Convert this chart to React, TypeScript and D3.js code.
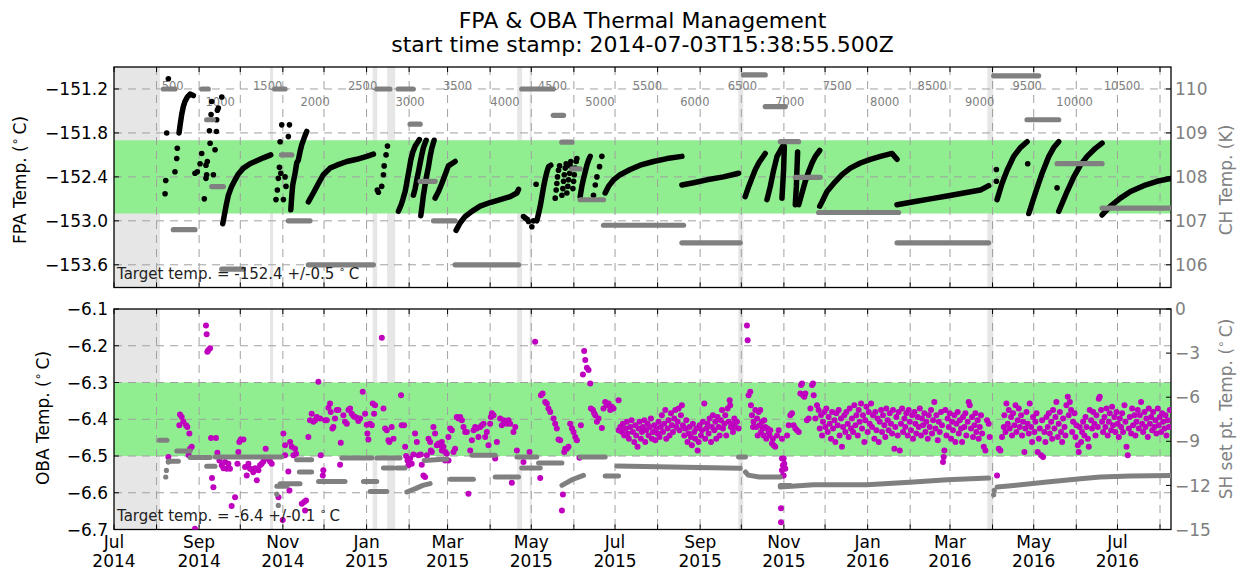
import React from 'react';
import * as d3 from 'd3';

// ---------------- DATA ----------------
// days are counted from 2014-07-01 (UTC)
const START_MS = Date.UTC(2014, 6, 1);
const END_DAY = 770;

const xTickMonths = ['2014-07', '2014-09', '2014-11', '2015-01', '2015-03', '2015-05', '2015-07', '2015-09', '2015-11', '2016-01', '2016-03', '2016-05', '2016-07'];
const fpaTicks = [-153.6, -153.0, -152.4, -151.8, -151.2];
const chTicks = [106, 107, 108, 109, 110];
const obaTicks = [-6.7, -6.6, -6.5, -6.4, -6.3, -6.2, -6.1];
const shTicks = [-15, -12, -9, -6, -3, 0];
const orbitTicks = [500, 1000, 1500, 2000, 2500, 3000, 3500, 4000, 4500, 5000, 5500, 6000, 6500, 7000, 7500, 8000, 8500, 9000, 9500, 10000, 10500];
const ORBIT0_DAY = 8.2;
const ORBIT_PERIOD_DAYS = 0.06916;

const fpaTarget = [-152.9, -151.9];
const obaTarget = [-6.5, -6.3];

const shadedDays = [[0, 33.5], [113.7, 115.9], [188.4, 191.7], [199, 204.8], [293.7, 297.3], [302.8, 304.2], [454.8, 458.4], [636.2, 640.6]];

const fpaSparse = [
  [39.6, -151.06], [38.4, -151.8], [37.7, -152.45], [37.2, -152.63], [44.4, -152.33], [45.7, -152.15], [46.1, -152.01],
  [59, -152.35], [60.7, -152.33], [62.7, -152.22], [63.9, -152.08], [65.8, -152.7], [67, -152.24], [67.5, -152.37], [67, -152.42], [68, -152.19], [70, -151.94], [69.5, -151.77], [70.7, -151.55], [71.2, -151.37], [72.4, -152.37], [73.6, -152.03], [74.6, -151.78], [74.8, -151.62], [75.3, -151.49], [76, -151.46], [78.5, -151.31],
  [118, -152.71], [119, -152.58], [119.7, -152.42], [120.5, -152.27], [121, -151.92], [122.2, -151.69], [121.5, -152.35], [123.4, -152.71], [124.6, -152.4], [125.3, -152.53], [127, -151.85], [127.8, -151.69],
  [192.6, -152.61], [191.8, -152.58], [195, -152.53], [196.3, -152.37], [196.8, -152.25], [198.2, -152.1], [199.2, -151.98],
  [298.3, -152.94], [299.5, -152.96], [301, -152.98], [302, -153.01], [304.4, -153.08], [305.6, -153.0], [307.5, -152.5],
  [321.4, -152.69], [322.1, -152.58], [322.6, -152.49], [323.1, -152.4], [323.8, -152.31], [324.6, -152.25],
  [326.3, -152.65], [327, -152.56], [327.5, -152.46], [328, -152.37], [328.7, -152.28], [329.4, -152.22],
  [329.9, -152.62], [330.6, -152.53], [331.1, -152.44], [331.9, -152.35], [332.3, -152.25], [332.8, -152.19],
  [334.3, -152.56], [334.8, -152.46], [335.3, -152.37], [336, -152.28], [336.7, -152.19], [337.2, -152.15],
  [349.3, -152.65], [350.6, -152.51], [351.8, -152.4], [353.7, -152.26], [355.4, -152.12],
  [642.8, -152.3], [642.8, -152.46], [665.6, -152.22], [687, -152.55],
];

const fpaRuns = [
  [[47.4, -151.8], [48.1, -151.7], [49.3, -151.55], [50.5, -151.44], [51.7, -151.37], [53.4, -151.31], [55.4, -151.27], [57.8, -151.29]],
  [[79.2, -153.04], [80.2, -152.94], [81.6, -152.8], [83.3, -152.65], [85.7, -152.53], [88.2, -152.44], [90.6, -152.36], [94.3, -152.28], [99.1, -152.22], [104, -152.18], [108.8, -152.14], [114.2, -152.1]],
  [[128.8, -152.85], [129.5, -152.66], [130.2, -152.51], [131.9, -152.35], [133.1, -152.21], [134.3, -152.17], [135.6, -152.05], [136.8, -151.96], [138.5, -151.87], [140.4, -151.78]],
  [[141.6, -152.74], [145.2, -152.62], [148.9, -152.49], [152.5, -152.37], [157.4, -152.28], [162.3, -152.24], [169.6, -152.19], [176.9, -152.16], [184.2, -152.12], [189, -152.09]],
  [[207.2, -152.87], [209.2, -152.78], [210.4, -152.71], [212.1, -152.6], [212.8, -152.53], [213.8, -152.42], [215.2, -152.28], [216.2, -152.17], [217.7, -152.06], [219.4, -151.98], [222.5, -151.89]],
  [[218.1, -152.65], [219.4, -152.56], [220.6, -152.44], [221.8, -152.33], [223, -152.21], [224.2, -152.1], [225.4, -152.0], [227.4, -151.9]],
  [[223.5, -152.93], [224.7, -152.76], [225.4, -152.65], [226.6, -152.51], [227.9, -152.37], [229.1, -152.26], [230.3, -152.12], [231.5, -152.01], [233.2, -151.9]],
  [[233.9, -152.69], [236.4, -152.6], [238.8, -152.49], [241.2, -152.37], [243.6, -152.25], [246, -152.22], [248.5, -152.19]],
  [[249.2, -153.13], [252.1, -153.03], [255.8, -152.94], [260.7, -152.87], [266.7, -152.8], [274, -152.75], [281.3, -152.71], [288.6, -152.67], [293.5, -152.62], [294.7, -152.57]],
  [[308, -153.0], [309.3, -152.9], [310.5, -152.8], [311.7, -152.67], [313, -152.53], [314.2, -152.42], [315.4, -152.33], [316.6, -152.26], [318.2, -152.24]],
  [[339.6, -152.67], [340.8, -152.53], [342.1, -152.42], [343.3, -152.33], [344.5, -152.24], [345.7, -152.17], [346.9, -152.12]],
  [[357.8, -152.62], [360.2, -152.53], [363.9, -152.44], [368.7, -152.37], [376, -152.3], [383.3, -152.24], [393, -152.19], [402.8, -152.15], [413.7, -152.12]],
  [[413.7, -152.51], [422.2, -152.48], [431.9, -152.44], [444, -152.4], [455, -152.35]],
  [[459.8, -152.67], [462, -152.55], [464.7, -152.42], [467.2, -152.3], [470, -152.2], [474.4, -152.08]],
  [[475.7, -152.71], [478.1, -152.53], [480.5, -152.31], [483, -152.12], [487.8, -151.96]],
  [[486.6, -152.69], [487.8, -152.3], [488.3, -151.99]],
  [[496.3, -152.78], [497.1, -152.53], [497.5, -152.31], [498, -152.06]],
  [[498.8, -152.78], [501.2, -152.62], [503.6, -152.46], [506, -152.33], [508.5, -152.21], [510.9, -152.12], [514.1, -152.04]],
  [[514.1, -152.8], [515.8, -152.74], [519.4, -152.6], [524.3, -152.49], [530.3, -152.37], [536.4, -152.28], [543.7, -152.21], [551, -152.16], [558.3, -152.12], [566.8, -152.08], [570.4, -152.16]],
  [[570.4, -152.78], [582.6, -152.74], [594.7, -152.7], [606.9, -152.66], [619, -152.62], [631.1, -152.58], [637.2, -152.52]],
  [[643.3, -152.71], [646.9, -152.49], [650.6, -152.31], [655.4, -152.12], [660.3, -152.0], [665.2, -151.92]],
  [[666.4, -152.9], [671.2, -152.62], [676.1, -152.35], [681, -152.12], [684.6, -152.0], [688.2, -151.92]],
  [[688.2, -152.87], [694.3, -152.6], [699.2, -152.4], [704, -152.24], [708.9, -152.12], [714.9, -152.01], [719.8, -151.94]],
  [[719.8, -152.92], [725.9, -152.8], [733.2, -152.69], [740.5, -152.6], [750.1, -152.52], [759.8, -152.46], [770, -152.42]],
];

// CH temperature (K): [start day, end day, value]
const chSegments = [
  [36, 44.4, 110.0], [43.2, 59, 106.8], [63.9, 68.7, 110.0], [67.5, 72.4, 109.3], [71.2, 79.7, 107.78], [78.5, 94.2, 105.9],
  [117, 124.6, 110.0], [122, 129.5, 108.5], [127, 142.8, 107.0], [141.6, 189, 106.0], [191.4, 201, 110.0], [207, 218, 110.0],
  [215.7, 223, 109.2], [223, 234, 107.9], [232.7, 248.5, 107.0], [248.5, 294.7, 106.0], [297, 320, 110.0], [320, 327.5, 109.4],
  [326.2, 333.5, 108.79], [333.5, 339.6, 108.18], [339.6, 356.6, 107.48], [356.6, 414.9, 106.9], [413.7, 456.2, 106.5],
  [458.6, 474.4, 110.32], [474.4, 489, 109.6], [485.4, 498.7, 108.8], [496.3, 514.5, 107.99], [513.3, 571.6, 107.19],
  [570.4, 637.2, 106.5], [640.8, 673.6, 110.3], [665.1, 688.2, 109.3], [687, 719.8, 108.3], [719.8, 770, 107.29],
];

// SH set point (deg C)
const shRuns = [
  [[33, -8.93], [38.6, -8.93]],
  [[39.6, -10.36], [46.9, -10.36]],
  [[45.7, -9.66], [55.4, -9.66]],
  [[55.4, -10.11], [70, -10.11]],
  [[67.5, -10.7], [73.6, -10.7]],
  [[73.6, -10.07], [122.2, -10.07]],
  [[118.6, -12.05], [125.9, -12.05]],
  [[121, -11.88], [135.5, -11.88]],
  [[135, -11.09], [144, -11.09]],
  [[133, -10.25], [144, -10.25]],
  [[149, -11.73], [168.3, -11.73]],
  [[166, -10.14], [187.8, -10.14]],
  [[181.7, -11.73], [191.4, -11.73]],
  [[186.6, -12.41], [198.7, -12.41]],
  [[191.4, -10.14], [208.4, -10.14]],
  [[196.3, -10.82], [203.6, -10.82]],
  [[206, -10.82], [212, -10.82]],
  [[213.3, -12.45], [220, -12.2], [225, -12.0], [230.3, -11.88]],
  [[226, -10.3], [242.5, -10.2]],
  [[244.9, -11.59], [261.8, -11.59]],
  [[260.7, -9.95], [277.7, -9.95]],
  [[277.7, -11.43], [294.7, -11.43]],
  [[293.5, -10.07], [308, -10.07]],
  [[297, -10.82], [310.5, -10.82]],
  [[309.3, -10.48], [326.3, -10.48]],
  [[326.3, -12.0], [334, -11.6], [342, -11.32]],
  [[339.6, -10.07], [357.8, -10.07]],
  [[357.8, -11.36], [367.5, -11.36]],
  [[366.3, -10.68], [456.2, -10.84]],
  [[455, -10.07], [460, -10.07]],
  [[460, -11.09], [462, -11.3], [470, -11.43], [485.4, -11.43]],
  [[485.4, -12.0], [492.6, -12.0]],
  [[485.4, -12.11], [509.7, -11.95], [548.6, -11.95], [582.6, -11.77], [606.9, -11.61], [637.2, -11.5]],
  [[643.3, -12.11], [655.4, -12.0], [679.7, -11.77], [704, -11.55], [718.6, -11.43], [740.5, -11.36], [770, -11.32]],
];
const shDots = [[37.7, -11.43], [38.2, -10.98], [39.6, -10.41], [118.6, -12.6], [119.7, -13.36], [640.8, -12.64], [641.2, -12.34]];

// OBA temperature (deg C)
const obaPoints = [
  [39.6, -6.503], [48.1, -6.387], [49.3, -6.394], [47.6, -6.416], [50.5, -6.407], [52.5, -6.416], [53.4, -6.421], [54.9, -6.439], [55.4, -6.48], [54.4, -6.498], [56.6, -6.475], [59, -6.698],
  [67, -6.145], [67.5, -6.169], [68, -6.216], [68.7, -6.212], [70, -6.207], [70.7, -6.451], [74.3, -6.451], [71.4, -6.56], [72.4, -6.585], [75.3, -6.491], [76.8, -6.512], [78.5, -6.525], [79.7, -6.533], [80.9, -6.516], [82.1, -6.535], [83.3, -6.521], [84.5, -6.535], [85.7, -6.636], [88.2, -6.612],
  [89.9, -6.521], [90.6, -6.489], [91.3, -6.462], [92.3, -6.455], [94.3, -6.455], [95.5, -6.53], [96.7, -6.553], [97.9, -6.521], [99.1, -6.535], [100.3, -6.536], [101.5, -6.544], [102.8, -6.533], [104, -6.566], [105.2, -6.539], [106.4, -6.525], [107.6, -6.521], [108.8, -6.515], [110.5, -6.48], [111.3, -6.507], [112.5, -6.507], [113.7, -6.515], [114.9, -6.521],
  [119.8, -6.612], [122.9, -6.674], [123.4, -6.439], [124.6, -6.471], [124.6, -6.498], [127, -6.542], [127.8, -6.594], [128.3, -6.462], [129.5, -6.475], [130.7, -6.498], [131.9, -6.48], [132.6, -6.494], [136.8, -6.63], [138.5, -6.625], [139.9, -6.621], [139.2, -6.648],
  [141.6, -6.448], [142.8, -6.403], [144, -6.385], [145.3, -6.407], [146.5, -6.403], [147.7, -6.394], [148.9, -6.298], [150.1, -6.398], [150.6, -6.498], [152.1, -6.553], [152.5, -6.539], [153.8, -6.403], [155, -6.403], [156.2, -6.369], [157.4, -6.357], [157.9, -6.38], [159.1, -6.425], [159.8, -6.421], [161, -6.398], [162.3, -6.375], [163.5, -6.375], [164.7, -6.524], [165.2, -6.464], [167.1, -6.389], [168.3, -6.407], [169.6, -6.412], [170.8, -6.375], [172, -6.371], [173.2, -6.385], [174.4, -6.391], [175.6, -6.394], [176.8, -6.396], [178, -6.405], [179.3, -6.398], [181.2, -6.325], [182.9, -6.385], [184.1, -6.415], [184.6, -6.439], [185.3, -6.455], [186.6, -6.412], [187.8, -6.416], [188.5, -6.357], [189.5, -6.385], [190.2, -6.362],
  [195.1, -6.178], [196.3, -6.371], [197.5, -6.425], [198.7, -6.43], [199.9, -6.457], [200.6, -6.462], [202.3, -6.421], [203.6, -6.453], [209.1, -6.335], [209.6, -6.416], [211.3, -6.416], [212.1, -6.475], [212.8, -6.5], [213.8, -6.512], [214.5, -6.525], [215.7, -6.507], [216.9, -6.521], [218.1, -6.496], [219.3, -6.439], [220.6, -6.462], [221.8, -6.498], [223.5, -6.496], [224.2, -6.524], [225.4, -6.553], [226.6, -6.557], [227.9, -6.498], [229.1, -6.453], [230.3, -6.462], [230.8, -6.485], [231.5, -6.489], [232.7, -6.421], [233.9, -6.439], [235.1, -6.471], [236.4, -6.466], [237.6, -6.471], [238.8, -6.485], [240, -6.475], [241.2, -6.512], [242.4, -6.494], [243.6, -6.448],
  [238.8, -6.462], [241.2, -6.489], [243.7, -6.512], [244.9, -6.425], [246.1, -6.43], [247.3, -6.489], [248.5, -6.48], [249.7, -6.394], [251, -6.398], [252.2, -6.394], [253.4, -6.403], [254.6, -6.421], [255.8, -6.435], [257, -6.435], [258.2, -6.603], [259.5, -6.485], [260.7, -6.457], [261.9, -6.43], [263.1, -6.421], [264.3, -6.425], [265.5, -6.448], [266.8, -6.421], [268, -6.416], [269.2, -6.412], [270.4, -6.448], [271.6, -6.435], [272.8, -6.471], [274, -6.412], [274.5, -6.394], [275.3, -6.384], [276.5, -6.389], [277.7, -6.507], [278.9, -6.462], [281.3, -6.398], [282.5, -6.416], [283.8, -6.403], [285, -6.407], [286.2, -6.412], [287.4, -6.403], [288.6, -6.412], [289.8, -6.573], [291, -6.435], [292.3, -6.421], [293.5, -6.485], [298.3, -6.516], [302.7, -6.489],
  [306.8, -6.189], [310.5, -6.56], [311, -6.335], [312.2, -6.33], [314.1, -6.353], [315.3, -6.357], [316.5, -6.371], [317.8, -6.38], [320.2, -6.398], [321.4, -6.412], [322.6, -6.425], [323.8, -6.455], [325, -6.457], [326.3, -6.648], [327, -6.605], [328, -6.489], [328.7, -6.48], [329.9, -6.48], [331.1, -6.475], [332.3, -6.412], [333.6, -6.425], [334.8, -6.435], [336, -6.448], [337.2, -6.457], [339.1, -6.505], [340.1, -6.416],
  [341.6, -6.278], [342.5, -6.214], [343.3, -6.239], [344.5, -6.26], [345.7, -6.266], [346.9, -6.303], [347.4, -6.371], [348.9, -6.375], [349.8, -6.384], [350.6, -6.389], [351.8, -6.407], [353, -6.398], [355.4, -6.424], [356.6, -6.371], [357.8, -6.353], [359.1, -6.362], [360.3, -6.357], [361.5, -6.375], [362.7, -6.366], [363.9, -6.371], [367.6, -6.348],
  [367.6, -6.43], [368.8, -6.421], [370, -6.435], [370.7, -6.412], [371.7, -6.444], [372.7, -6.425], [373.6, -6.407], [374.1, -6.439], [375.1, -6.453], [376.1, -6.421], [377, -6.403], [378, -6.435], [379, -6.462], [379.7, -6.416], [380.4, -6.444], [381.4, -6.475], [382.1, -6.425], [382.9, -6.407], [383.8, -6.453], [384.6, -6.435], [385.3, -6.421], [386.3, -6.403], [387, -6.462], [387.7, -6.43], [388.7, -6.412], [389.4, -6.444], [390.2, -6.421], [391.1, -6.398], [391.9, -6.453], [392.6, -6.435], [393.6, -6.416], [394.3, -6.457], [395, -6.425], [396, -6.439], [396.7, -6.407], [397.4, -6.448], [398.4, -6.421], [399.1, -6.389], [399.9, -6.435], [400.8, -6.412], [401.6, -6.375], [402.3, -6.453], [403.3, -6.425], [404, -6.403], [404.7, -6.444], [405.7, -6.384], [406.4, -6.416], [407.2, -6.435], [408.1, -6.398], [408.9, -6.375], [409.6, -6.421], [410.6, -6.407], [411.3, -6.371], [412, -6.43], [413, -6.389], [413.7, -6.362], [414.4, -6.416], [415.4, -6.444], [416.1, -6.425], [416.9, -6.403], [417.8, -6.462], [418.6, -6.439], [419.3, -6.421], [420.3, -6.448], [421, -6.471], [421.7, -6.412], [422.7, -6.435], [423.4, -6.453], [424.2, -6.425], [425.1, -6.485], [425.9, -6.462], [426.6, -6.416], [427.6, -6.444], [428.3, -6.43], [429, -6.407], [430, -6.357], [430.7, -6.453], [431.5, -6.425], [432.4, -6.412], [433.2, -6.439], [433.9, -6.398], [434.9, -6.462], [435.6, -6.421], [436.3, -6.389], [437.3, -6.43], [438, -6.407], [438.7, -6.453], [439.7, -6.394], [440.4, -6.421], [441.2, -6.444], [442.1, -6.403], [442.9, -6.375], [443.6, -6.425], [444.6, -6.412], [445.3, -6.389], [446, -6.444], [447, -6.371], [447.7, -6.407], [448.5, -6.348], [448.9, -6.362], [449.4, -6.421], [450.1, -6.412], [450.9, -6.435], [451.9, -6.398], [452.6, -6.421], [453.8, -6.407], [455, -6.425],
  [461.1, -6.145], [461.6, -6.185], [462.3, -6.335], [463.5, -6.325], [464, -6.362], [464.7, -6.389], [465.5, -6.421], [465.9, -6.407], [467.2, -6.375], [467.9, -6.421], [468.4, -6.398], [468.9, -6.444], [469.6, -6.38], [470.3, -6.416], [470.8, -6.375], [471.3, -6.435], [472, -6.407], [472.7, -6.425], [473.2, -6.444], [473.7, -6.403], [474.4, -6.421], [475.2, -6.453], [476.1, -6.425], [476.9, -6.435], [477.6, -6.444], [478.1, -6.43], [479.3, -6.466], [480, -6.453], [480.5, -6.471], [481.7, -6.475], [483, -6.444], [484.2, -6.43], [486.6, -6.507], [487.3, -6.525], [487.8, -6.553], [486.6, -6.539], [485.9, -6.642], [485.9, -6.68],
  [486.6, -6.453], [487.8, -6.507], [488.3, -6.521], [489, -6.535], [487.3, -6.553], [490.3, -6.444], [491.5, -6.416], [492.7, -6.389], [493.9, -6.384], [495.1, -6.416], [496.3, -6.425], [497.5, -6.43], [498.8, -6.435], [500, -6.33], [500.5, -6.307], [501.2, -6.303], [501.9, -6.335], [502.9, -6.339], [503.6, -6.33], [504.8, -6.403], [506, -6.398], [507.3, -6.371], [508.5, -6.307], [509.2, -6.303], [509.7, -6.335],
  [510.9, -6.398], [512.1, -6.362], [513.3, -6.375], [514.1, -6.425], [515, -6.389], [515.8, -6.444], [516.5, -6.407], [517.5, -6.38], [518.2, -6.421], [518.9, -6.371], [519.9, -6.435], [520.6, -6.394], [521.4, -6.412], [522.3, -6.453], [523.1, -6.38], [523.8, -6.425], [524.8, -6.403], [525.5, -6.462], [526.2, -6.384], [527.2, -6.416], [527.9, -6.375], [528.6, -6.444], [529.6, -6.398], [530.3, -6.475], [531.1, -6.421], [532, -6.389], [532.8, -6.435], [533.5, -6.38], [534.5, -6.412], [535.2, -6.448], [535.9, -6.371], [536.9, -6.425], [537.6, -6.398], [538.4, -6.435], [539.3, -6.362], [540.1, -6.416], [540.8, -6.389], [541.8, -6.444], [542.5, -6.375], [543.2, -6.407], [544.2, -6.357], [544.9, -6.425], [545.6, -6.389], [546.6, -6.462], [547.3, -6.403], [548.1, -6.366], [549, -6.435], [549.8, -6.38], [550.5, -6.412], [551.5, -6.357], [552.2, -6.421], [552.9, -6.389], [553.9, -6.453], [554.6, -6.38], [555.4, -6.43], [556.3, -6.398], [557.1, -6.462], [557.8, -6.407], [558.8, -6.375], [559.5, -6.435], [560.2, -6.389], [561.2, -6.416], [561.9, -6.448], [562.6, -6.371], [563.6, -6.403], [564.3, -6.43], [565.1, -6.384], [566, -6.412], [566.8, -6.439], [567.5, -6.375], [568.5, -6.48], [569.2, -6.421], [569.9, -6.394], [570.9, -6.444], [571.6, -6.38], [572.4, -6.485], [573.3, -6.412], [574.1, -6.371], [574.8, -6.435], [575.8, -6.398], [576.5, -6.421], [577.2, -6.384], [578.2, -6.444], [578.9, -6.375], [579.7, -6.407], [580.6, -6.43], [581.4, -6.389], [582.1, -6.453], [583.1, -6.38], [583.8, -6.412], [584.5, -6.439], [585.5, -6.394], [586.2, -6.421], [587, -6.371], [587.9, -6.444], [588.6, -6.398], [589.4, -6.416], [590.3, -6.384], [591.1, -6.435], [591.8, -6.407], [592.8, -6.453], [593.5, -6.389], [594.2, -6.421], [595.2, -6.375], [595.9, -6.439], [596.7, -6.403], [597.6, -6.353], [598.4, -6.425], [599.1, -6.389], [600.1, -6.457], [600.8, -6.407], [601.5, -6.435], [602.5, -6.38], [603.2, -6.416], [603.9, -6.516], [604.4, -6.503], [604.9, -6.485], [605.6, -6.375], [606.4, -6.444], [607.3, -6.398], [608.1, -6.421], [608.8, -6.384], [609.8, -6.453], [610.5, -6.407], [611.2, -6.43], [612.2, -6.389], [612.9, -6.462], [613.7, -6.412], [614.6, -6.38], [615.4, -6.439], [616.1, -6.403], [617.1, -6.425], [617.8, -6.462], [618.5, -6.394], [619.5, -6.421], [620.2, -6.384], [620.9, -6.444], [621.9, -6.407], [622.6, -6.353], [623.4, -6.362], [624.3, -6.425], [625.1, -6.394], [625.8, -6.448], [626.8, -6.416], [627.5, -6.384], [628.2, -6.435], [629.2, -6.403], [629.9, -6.453], [630.7, -6.421], [631.6, -6.389], [632.4, -6.439], [633.6, -6.475], [634.8, -6.485], [636, -6.403], [637.2, -6.412], [637.9, -6.448],
  [643.3, -6.553], [644.5, -6.48], [645.7, -6.485], [646.9, -6.448], [648.2, -6.421], [648.6, -6.389], [649.4, -6.435], [650.1, -6.357], [651.1, -6.412], [651.8, -6.375], [652.5, -6.425], [653.5, -6.394], [654.2, -6.444], [655, -6.384], [655.9, -6.416], [656.7, -6.362], [657.4, -6.435], [658.4, -6.403], [659.1, -6.371], [659.8, -6.421], [660.8, -6.389], [661.5, -6.444], [662.2, -6.407], [663.2, -6.489], [663.9, -6.425], [664.7, -6.38], [665.6, -6.412], [666.4, -6.439], [667.1, -6.357], [668.1, -6.421], [668.8, -6.462], [669.5, -6.394], [670.5, -6.435], [671.2, -6.407], [672, -6.384], [672.9, -6.489], [673.7, -6.453], [674.4, -6.425], [675.4, -6.498], [676.1, -6.403], [676.8, -6.503], [677.8, -6.435], [678.5, -6.462], [679.3, -6.394], [680.2, -6.421], [681, -6.384], [681.7, -6.439], [682.7, -6.407], [683.4, -6.453], [684.1, -6.375], [685.1, -6.425], [685.8, -6.394], [686.5, -6.353], [687.5, -6.448], [688.2, -6.412], [689, -6.38], [689.9, -6.435], [690.7, -6.462], [691.4, -6.398], [692.4, -6.421], [693.1, -6.444], [693.8, -6.362], [694.8, -6.339], [695.5, -6.389], [696.3, -6.353], [697.2, -6.375], [698, -6.435], [698.7, -6.407], [699.7, -6.384], [700.4, -6.448], [701.1, -6.416], [702.1, -6.471], [702.8, -6.489], [703.5, -6.421], [704.5, -6.462], [705.2, -6.435], [706, -6.407], [706.9, -6.444], [707.7, -6.394], [708.4, -6.421], [709.4, -6.453], [710.1, -6.475], [710.8, -6.375], [711.8, -6.403], [712.5, -6.425], [713.3, -6.38], [714.2, -6.412], [715, -6.444], [715.7, -6.389], [716.7, -6.421], [717.4, -6.344], [718.1, -6.339], [719.1, -6.375], [719.8, -6.407], [720.5, -6.435], [721.5, -6.394], [722.2, -6.421], [723, -6.371], [723.9, -6.444], [724.7, -6.407], [725.4, -6.384], [726.4, -6.43], [727.1, -6.366], [727.8, -6.416], [728.8, -6.394], [729.5, -6.435], [730.3, -6.38], [731.2, -6.412], [732, -6.448], [732.7, -6.398], [733.7, -6.421], [734.4, -6.384], [735.1, -6.435], [736.1, -6.362], [736.8, -6.407], [737.6, -6.475], [738.5, -6.498], [739.3, -6.425], [740, -6.394], [741, -6.439], [741.7, -6.371], [742.4, -6.416], [743.4, -6.389], [744.1, -6.444], [744.8, -6.407], [745.8, -6.375], [746.5, -6.425], [747.3, -6.389], [748.2, -6.353], [749, -6.412], [749.7, -6.435], [750.7, -6.38], [751.4, -6.421], [752.1, -6.398], [753.1, -6.448], [753.8, -6.371], [754.6, -6.412], [755.5, -6.394], [756.3, -6.43], [757, -6.38], [758, -6.421], [758.7, -6.403], [759.4, -6.439], [760.4, -6.371], [761.1, -6.416], [761.8, -6.394], [762.8, -6.435], [763.5, -6.384], [764.3, -6.407], [765.2, -6.425], [766, -6.389], [766.7, -6.444], [767.7, -6.403], [768.4, -6.421], [769.1, -6.375],
];

// ---------------- LAYOUT ----------------
const W = 1238, H = 569;
const X0 = 114, X1 = 1171;
const TOP = { y0: 67, y1: 287.5 };
const BOT = { y0: 309, y1: 529.5 };
const FONT = 'DejaVu Sans';
const GRAY = '#808080';
const MAGENTA = '#bf00bf';
const GREEN = '#90ee90';
const SHADE = '#e6e6e6';
const GRID = '#a0a0a0';

const dayToDate = (d: number) => new Date(START_MS + d * 86400000);
const fmtNum = (v: number, digits: number) => {
  const s = v.toFixed(digits);
  return s.startsWith('-') ? '\u2212' + s.slice(1) : s;
};

function Circ({ size }: { size: number }) {
  return (
    <>
      <tspan fontSize={size * 0.7} dy={-size * 0.4}>{'\u2218'}</tspan>
      <tspan dy={size * 0.4}>{'\u2009C'}</tspan>
    </>
  );
}

export default function App() {
  const x = d3.scaleUtc().domain([dayToDate(0), dayToDate(END_DAY)]).range([X0, X1]);
  const xd = (d: number) => x(dayToDate(d));
  const yF = d3.scaleLinear().domain([-153.91, -150.9]).range([TOP.y1, TOP.y0]);
  const yCH = d3.scaleLinear().domain([110 - (3.01 - 0.3) / 0.6, 110 + 0.3 / 0.6]).range([TOP.y1, TOP.y0]);
  const yO = d3.scaleLinear().domain([-6.7, -6.1]).range([BOT.y1, BOT.y0]);
  const yS = d3.scaleLinear().domain([-15, 0]).range([BOT.y1, BOT.y0]);

  const months = d3.utcMonth.range(dayToDate(0), dayToDate(END_DAY + 1));
  const parseMonth = d3.utcParse('%Y-%m');
  const fmtMon = d3.utcFormat('%b');
  const fmtYear = d3.utcFormat('%Y');

  const fLine = d3.line<number[]>().x(d => xd(d[0])).y(d => yF(d[1]));
  const sLine = d3.line<number[]>().x(d => xd(d[0])).y(d => yS(d[1]));

  const frame = (p: { y0: number; y1: number }, yTicksPx: number[], rTicksPx: number[], key: string) => (
    <g key={key}>
      {months.map((m, i) => {
        const px = x(m);
        if (px <= X0 + 1 || px >= X1 - 1) return null;
        return <line key={'vg' + i} x1={px} x2={px} y1={p.y0} y2={p.y1} stroke={GRID} strokeWidth={1} strokeDasharray="8,6" />;
      })}
      {yTicksPx.map((py, i) => (py <= p.y0 + 1 || py >= p.y1 - 1) ? null : (
        <line key={'hg' + i} x1={X0} x2={X1} y1={py} y2={py} stroke={GRID} strokeWidth={1} strokeDasharray="8,6" />
      ))}
      {months.map((m, i) => {
        const px = x(m);
        return (
          <g key={'tk' + i}>
            <line x1={px} x2={px} y1={p.y0} y2={p.y0 + 5} stroke="#000" strokeWidth={1} />
            <line x1={px} x2={px} y1={p.y1} y2={p.y1 - 5} stroke="#000" strokeWidth={1} />
          </g>
        );
      })}
      {yTicksPx.map((py, i) => <line key={'lt' + i} x1={X0} x2={X0 + 5} y1={py} y2={py} stroke="#000" strokeWidth={1} />)}
      {rTicksPx.map((py, i) => <line key={'rt' + i} x1={X1} x2={X1 - 5} y1={py} y2={py} stroke="#000" strokeWidth={1} />)}
      <rect x={X0} y={p.y0} width={X1 - X0} height={p.y1 - p.y0} fill="none" stroke="#000" strokeWidth={1.3} />
    </g>
  );

  const background = (p: { y0: number; y1: number }, band: number[], ys: (v: number) => number, key: string) => (
    <g key={key}>
      <rect x={X0} y={p.y0} width={X1 - X0} height={p.y1 - p.y0} fill="#fff" />
      {shadedDays.map((s, i) => (
        <rect key={i} x={xd(s[0])} y={p.y0} width={Math.max(1, xd(s[1]) - xd(s[0]))} height={p.y1 - p.y0} fill={SHADE} />
      ))}
      <rect x={X0} y={ys(band[1])} width={X1 - X0} height={ys(band[0]) - ys(band[1])} fill={GREEN} />
    </g>
  );

  return (
    <svg width={W} height={H} style={{ position: 'absolute', left: 0, top: 0, background: '#fff' }} fontFamily={FONT}>
      <defs>
        <clipPath id="clipTop"><rect x={X0} y={TOP.y0} width={X1 - X0} height={TOP.y1 - TOP.y0} /></clipPath>
        <clipPath id="clipBot"><rect x={X0} y={BOT.y0} width={X1 - X0} height={BOT.y1 - BOT.y0} /></clipPath>
      </defs>
      <rect x={0} y={0} width={W} height={H} fill="#fff" />

      <text x={642.5} y={28} textAnchor="middle" fontSize={22} fill="#000">FPA &amp; OBA Thermal Management</text>
      <text x={642.5} y={52} textAnchor="middle" fontSize={22} fill="#000">start time stamp: 2014-07-03T15:38:55.500Z</text>

      {/* ---------- TOP PANEL ---------- */}
      {background(TOP, fpaTarget, yF, 'bgTop')}
      {frame(TOP, fpaTicks.map(v => yF(v)), chTicks.map(v => yCH(v)), 'frTop')}
      <g clipPath="url(#clipTop)">
        {orbitTicks.map((o, i) => (
          <text key={'orb' + i} x={xd(ORBIT0_DAY + o * ORBIT_PERIOD_DAYS)} y={(o / 500) % 2 === 1 ? 89.5 : 105.5} textAnchor="middle" fontSize={11.5} fill={GRAY}>{o}</text>
        ))}
        {fpaRuns.map((r, i) => (
          <path key={'fr' + i} d={fLine(r) || ''} fill="none" stroke="#000" strokeWidth={5.5} strokeLinecap="round" strokeLinejoin="round" />
        ))}
        {fpaSparse.map((p, i) => <circle key={'fs' + i} cx={xd(p[0])} cy={yF(p[1])} r={2.8} fill="#000" />)}
        {chSegments.map((s, i) => (
          <line key={'ch' + i} x1={xd(s[0])} x2={xd(s[1])} y1={yCH(s[2])} y2={yCH(s[2])} stroke={GRAY} strokeWidth={5.2} strokeLinecap="round" />
        ))}
      </g>
      <text x={117} y={TOP.y1 - 9} fontSize={15} fill="#222">Target temp. = -152.4 +/-0.5 <Circ size={15} /></text>
      {fpaTicks.map((v, i) => (
        <text key={'ftl' + i} x={108} y={yF(v)} dy="0.36em" textAnchor="end" fontSize={17} fill="#000">{fmtNum(v, 1)}</text>
      ))}
      {chTicks.map((v, i) => (
        <text key={'chl' + i} x={1175} y={yCH(v)} dy="0.36em" textAnchor="start" fontSize={17} fill={GRAY}>{v}</text>
      ))}
      <text transform={`translate(26,180) rotate(-90)`} textAnchor="middle" fontSize={17} fill="#000">FPA Temp. (<Circ size={17} />)</text>
      <text transform={`translate(1232,180) rotate(-90)`} textAnchor="middle" fontSize={17} fill={GRAY}>CH Temp. (K)</text>

      {/* ---------- BOTTOM PANEL ---------- */}
      {background(BOT, obaTarget, yO, 'bgBot')}
      {frame(BOT, obaTicks.map(v => yO(v)), shTicks.map(v => yS(v)), 'frBot')}
      <g clipPath="url(#clipBot)">
        {obaPoints.map((p, i) => <circle key={'ob' + i} cx={xd(p[0])} cy={yO(p[1])} r={3} fill={MAGENTA} />)}
        {shRuns.map((r, i) => (
          <path key={'sr' + i} d={sLine(r) || ''} fill="none" stroke={GRAY} strokeWidth={5} strokeLinecap="round" strokeLinejoin="round" />
        ))}
        {shDots.map((p, i) => <circle key={'sd' + i} cx={xd(p[0])} cy={yS(p[1])} r={2.6} fill={GRAY} />)}
      </g>
      <text x={117} y={BOT.y1 - 9} fontSize={15} fill="#222">Target temp. = -6.4 +/-0.1 <Circ size={15} /></text>
      {obaTicks.map((v, i) => (
        <text key={'otl' + i} x={108} y={yO(v)} dy="0.36em" textAnchor="end" fontSize={17} fill="#000">{fmtNum(v, 1)}</text>
      ))}
      {shTicks.map((v, i) => (
        <text key={'shl' + i} x={1175} y={yS(v)} dy="0.36em" textAnchor="start" fontSize={17} fill={GRAY}>{fmtNum(v, 0)}</text>
      ))}
      <text transform={`translate(49,418) rotate(-90)`} textAnchor="middle" fontSize={17} fill="#000">OBA Temp. (<Circ size={17} />)</text>
      <text transform={`translate(1232,409) rotate(-90)`} textAnchor="middle" fontSize={17} fill={GRAY}>SH set pt. Temp. (<Circ size={17} />)</text>

      {xTickMonths.map((m, i) => {
        const dt = parseMonth(m) as Date;
        const px = x(dt);
        return (
          <g key={'xl' + i}>
            <text x={px} y={548} textAnchor="middle" fontSize={17} fill="#000">{fmtMon(dt)}</text>
            <text x={px} y={566.5} textAnchor="middle" fontSize={17} fill="#000">{fmtYear(dt)}</text>
          </g>
        );
      })}
    </svg>
  );
}
